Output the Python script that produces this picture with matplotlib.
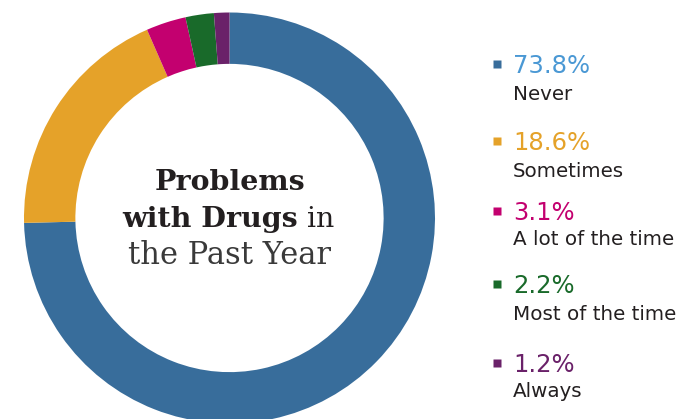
"""
Problems with Drugs in the Past Year - donut chart with side legend
"""
import matplotlib.pyplot as plt

#%% Data
labels = ['Never', 'Sometimes', 'A lot of the time', 'Most of the time', 'Always']
values = [73.8, 18.6, 3.1, 2.2, 1.2]
pct_labels = ['73.8%', '18.6%', '3.1%', '2.2%', '1.2%']

colors = ['#386d9b', '#e5a229', '#c3006f', '#196a2a', '#6a2169']
pct_colors = ['#4a98d4', '#e5a229', '#c3006f', '#196a2a', '#6a2169']

W, H = 682, 419
fig = plt.figure(figsize=(W / 100, H / 100), dpi=100)

#%% Donut (center and radius in pixels)
cx, cy, r = 229.5, 218, 205.5
ax = fig.add_axes([(cx - r) / W, (H - cy - r) / H, 2 * r / W, 2 * r / H])
ax.pie(values, colors=colors, startangle=90, counterclock=False,
       radius=1, wedgeprops=dict(width=0.25, linewidth=0))
ax.set_xlim(-1, 1)
ax.set_ylim(-1, 1)
ax.set_axis_off()

#%% Overlay axes in pixel coordinates
ov = fig.add_axes([0, 0, 1, 1], facecolor='none')
ov.set_xlim(0, W)
ov.set_ylim(H, 0)
ov.set_axis_off()

# center title
dark = '#231f20'
ov.text(cx, 190, 'Problems', ha='center', va='baseline', fontsize=20.5,
        family='DejaVu Serif', weight='bold', color=dark)
t_bold = ov.text(122, 227, 'with Drugs', ha='left', va='baseline', fontsize=20.5,
                 family='DejaVu Serif', weight='bold', color=dark)
ov.annotate(' in', xy=(1, 0), xycoords=t_bold, va='bottom', ha='left',
            fontsize=20.5, family='DejaVu Serif', color=dark)
ov.text(cx, 264, 'the Past Year', ha='center', va='baseline', fontsize=22,
        family='DejaVu Serif', color='#3a3a3a')

# legend
pct_base = [73, 150, 220, 293, 372]
lab_base = [100, 177, 245, 320, 397]
for i in range(len(labels)):
    ov.plot(497, pct_base[i] - 9, marker='s', ms=6, color=colors[i], mec='none')
    ov.text(513, pct_base[i], pct_labels[i], ha='left', va='baseline',
            fontsize=17.5, color=pct_colors[i])
    ov.text(513, lab_base[i], labels[i], ha='left', va='baseline',
            fontsize=14.3, color=dark)

fig.savefig('out.png', dpi=100, facecolor='white')
